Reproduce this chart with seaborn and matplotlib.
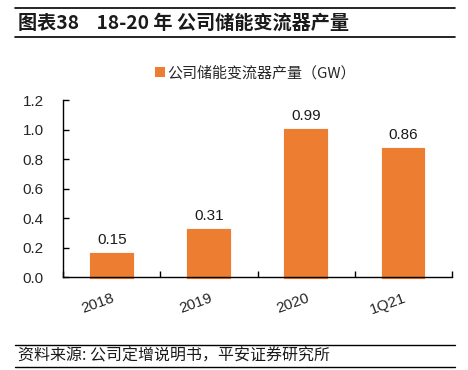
import matplotlib
matplotlib.use("Agg")
import matplotlib.pyplot as plt
import seaborn as sns
import pandas as pd
from matplotlib.lines import Line2D
from matplotlib.patches import Patch

categories = ["2018", "2019", "2020", "1Q21"]
values = [0.15, 0.31, 0.99, 0.86]
series_name = "公司储能变流器产量（GW）"
title = "图表38    18-20 年 公司储能变流器产量"
source = "资料来源: 公司定增说明书，平安证券研究所"
yticks = [0.0, 0.2, 0.4, 0.6, 0.8, 1.0, 1.2]

sns.set_theme(style="white")
plt.rcParams['font.family'] = ['Noto Sans CJK SC', 'DejaVu Sans']

color = "#ED7D31"
latin = ['Liberation Sans', 'DejaVu Sans']
df = pd.DataFrame({"cat": categories, "val": values})

fig = plt.figure(figsize=(4.68, 3.7), dpi=100)
ax = fig.add_axes([0.135, 0.251, 0.831, 0.478])
sns.barplot(data=df, x="cat", y="val", color=color, width=0.41, ax=ax,
            saturation=1, edgecolor=color, linewidth=3, clip_on=False)

ax.set_ylim(0, 1.2)
ax.set_xlim(-0.5, len(categories) - 0.5)
ax.set_yticks(yticks)
ax.set_yticklabels([f"{t:.1f}" for t in yticks], fontsize=11, family=latin)
ax.set_xlabel("")
ax.set_ylabel("")
for s in ["top", "right"]:
    ax.spines[s].set_visible(False)
for s in ["left", "bottom"]:
    ax.spines[s].set_color("black")
    ax.spines[s].set_linewidth(1.0)
    ax.spines[s].set_zorder(5)

ax.tick_params(axis="y", direction="in", length=4, width=1, color="black", pad=14, left=True)
ax.tick_params(axis="x", which="major", length=0, pad=10)
ax.set_xticks(range(len(categories)))
ax.set_xticklabels(categories, rotation=20, fontsize=11, family=latin,
                   ha="right", va="top", rotation_mode="anchor")
ax.set_xticks([i - 0.5 for i in range(len(categories) + 1)], minor=True)
ax.tick_params(axis="x", which="minor", direction="in", length=4, width=1, color="black", bottom=True)

for i, v in enumerate(values):
    ax.text(i, v + 0.055, f"{v:.2f}", ha="center", va="bottom", fontsize=11,
            family=latin, color="#1a1a1a")

handle = Patch(facecolor=color, edgecolor="none")
fig.legend([handle], [series_name], loc="center", bbox_to_anchor=(0.546, 0.803),
           frameon=False, fontsize=10.8, handlelength=0.65, handleheight=0.65,
           handletextpad=0.2, borderpad=0)

# title and rules
fig.add_artist(Line2D([0.032, 0.972], [1 - 8/370, 1 - 8/370], color="black", lw=1.2))
fig.add_artist(Line2D([0.032, 0.972], [1 - 37/370, 1 - 37/370], color="black", lw=1.2))
fig.text(0.038, 1 - 23/370, title, fontsize=13.8, weight="bold", va="center", ha="left", color="#1a1a1a")

fig.add_artist(Line2D([0.032, 0.972], [1 - 345/370, 1 - 345/370], color="black", lw=1.0))
fig.add_artist(Line2D([0.032, 0.972], [1 - 367/370, 1 - 367/370], color="black", lw=1.0))
fig.text(0.038, 1 - 356/370, source, fontsize=11.5, style="italic", va="center", ha="left", color="#1a1a1a")

fig.savefig("out.png", dpi=100)
